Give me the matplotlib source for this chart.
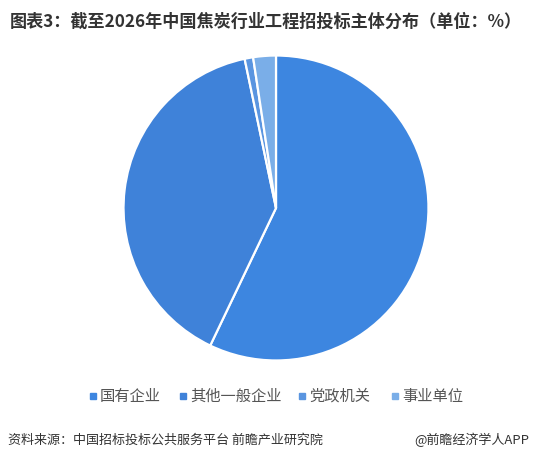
import matplotlib
matplotlib.use("Agg")
import matplotlib.pyplot as plt
from matplotlib.patches import Rectangle

plt.rcParams["font.family"] = ["Noto Sans CJK SC", "DejaVu Sans"]

# data
labels = ["国有企业", "其他一般企业", "党政机关", "事业单位"]
shares = [57.1, 39.6, 0.9, 2.4]
colors = ["#3d86e0", "#3f82d9", "#5a95e0", "#7aaee8"]

title = "图表3：截至2026年中国焦炭行业工程招投标主体分布（单位：%）"
source = "资料来源：中国招标投标公共服务平台 前瞻产业研究院"
credit = "@前瞻经济学人APP"

W, H = 533, 461
fig = plt.figure(figsize=(W / 100, H / 100), dpi=100)

# pie: centre (276, 208) px, radius 154 px
cx, cy, r = 276, 208, 154
ax = fig.add_axes([(cx - r) / W, (H - cy - r) / H, 2 * r / W, 2 * r / H])
ax.pie(shares, colors=colors, startangle=90, counterclock=False, radius=1,
       wedgeprops=dict(edgecolor="white", linewidth=1.6))
ax.set_xlim(-1.01, 1.01)
ax.set_ylim(-1.01, 1.01)
ax.set_aspect("equal")
ax.axis("off")

fig.text(10 / W, 1 - 22 / H, title, fontsize=12.3, fontweight="bold",
         color="#333333", va="center", ha="left")

# legend, laid out by hand like the original
leg_x = [90, 180, 299, 392]
leg_y = 396
for x, lab, c in zip(leg_x, labels, colors):
    fig.patches.append(Rectangle((x / W, 1 - (leg_y + 3) / H), 6 / W, 6 / H,
                                 transform=fig.transFigure, color=c))
    fig.text((x + 10) / W, 1 - leg_y / H, lab, fontsize=11,
             color="#555555", va="center", ha="left")

fig.text(8 / W, 1 - 440 / H, source, fontsize=9.4, color="#333333",
         va="center", ha="left")
fig.text(529 / W, 1 - 440 / H, credit, fontsize=9.4, color="#333333",
         va="center", ha="right")

fig.savefig("out.png", dpi=100)
